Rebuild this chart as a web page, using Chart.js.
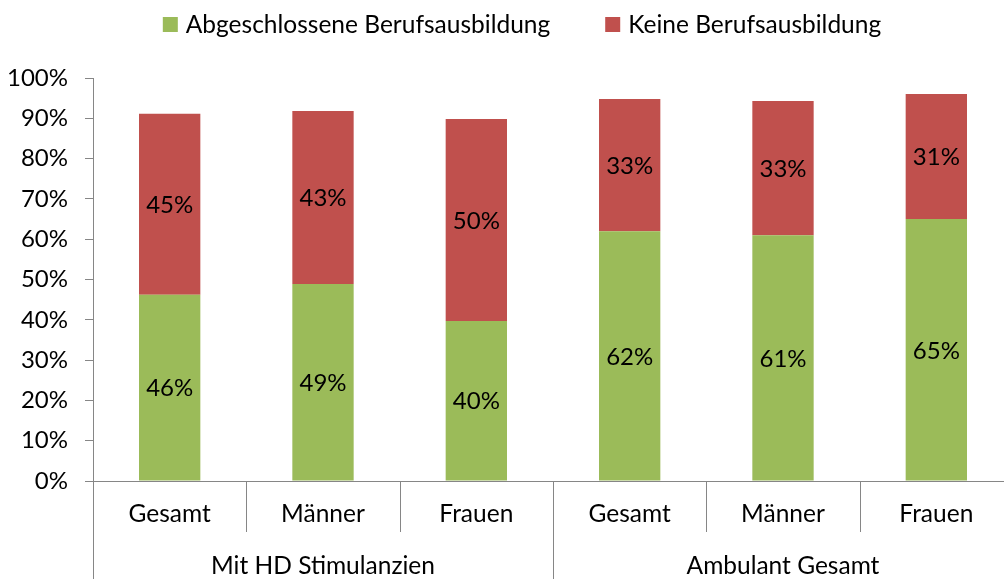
<!DOCTYPE html>
<html>
<head>
<meta charset="utf-8">
<script src="https://cdn.jsdelivr.net/npm/chart.js@4/dist/chart.umd.min.js"></script>
<style>
  html, body { margin: 0; padding: 0; background: #fff; overflow: hidden; }
  canvas { display: block; }
</style>
</head>
<body>
<canvas id="chart" width="1013" height="579" style="width:1013px;height:579px"></canvas>
<script>
// Daten
const categories = ['Gesamt', 'Männer', 'Frauen', 'Gesamt', 'Männer', 'Frauen'];
const groups = ['Mit HD Stimulanzien', 'Ambulant Gesamt'];
const groupSize = 3;
const abgeschlossen = [46.2, 48.9, 39.7, 62.0, 61.0, 65.0];
const keine = [44.9, 42.9, 50.1, 32.8, 33.3, 31.0];
const seriesNames = ['Abgeschlossene Berufsausbildung', 'Keine Berufsausbildung'];

const FONT = 'Lato, "Open Sans", sans-serif';
const AXIS_GRAY = '#868686';

// Eigene Legende oben
const legendPlugin = {
  id: 'topLegend',
  afterDraw(chart) {
    const ctx = chart.ctx;
    ctx.save();
    ctx.font = '24.5px ' + FONT;
    ctx.textBaseline = 'middle';
    ctx.textAlign = 'left';
    const box = 15, gap = 8, spacing = 55;
    const items = chart.data.datasets.map(ds => ({
      label: ds.label, color: ds.backgroundColor, w: ctx.measureText(ds.label).width
    }));
    const total = items.reduce((s, it) => s + box + gap + it.w, 0) + spacing * (items.length - 1);
    let x = 522 - total / 2;
    const y = 24.5;
    items.forEach(it => {
      ctx.fillStyle = it.color;
      ctx.fillRect(x, y - box / 2, box, box);
      ctx.fillStyle = '#000';
      ctx.fillText(it.label, x + box + gap, y + 1);
      x += box + gap + it.w + spacing;
    });
    ctx.restore();
  }
};

// Beschriftung in den Balken
const valueLabels = {
  id: 'valueLabels',
  afterDatasetsDraw(chart) {
    const ctx = chart.ctx;
    ctx.save();
    ctx.font = '24px ' + FONT;
    ctx.fillStyle = '#000';
    ctx.textAlign = 'center';
    ctx.textBaseline = 'middle';
    chart.data.datasets.forEach((ds, di) => {
      chart.getDatasetMeta(di).data.forEach((bar, i) => {
        const p = bar.getProps(['x', 'y', 'base'], true);
        ctx.fillText(Math.round(ds.data[i]) + '%', p.x, (p.y + p.base) / 2 + 1);
      });
    });
    ctx.restore();
  }
};

// Zweistufige Kategorienachse
const multiAxis = {
  id: 'multiAxis',
  afterDraw(chart) {
    const ctx = chart.ctx;
    const xs = chart.scales.x;
    const bottom = chart.chartArea.bottom;
    const half = (xs.getPixelForValue(1) - xs.getPixelForValue(0)) / 2;
    ctx.save();
    ctx.strokeStyle = AXIS_GRAY;
    ctx.lineWidth = 1;
    for (let i = 0; i <= categories.length; i++) {
      const x = Math.round(xs.getPixelForValue(i) - half) + 0.5;
      const full = i % groupSize === 0;
      ctx.beginPath();
      ctx.moveTo(x, bottom);
      ctx.lineTo(x, full ? chart.height : bottom + 51);
      ctx.stroke();
    }
    ctx.font = '24.5px ' + FONT;
    ctx.fillStyle = '#000';
    ctx.textAlign = 'center';
    ctx.textBaseline = 'alphabetic';
    categories.forEach((c, i) => {
      ctx.fillText(c, xs.getPixelForValue(i), bottom + 41);
    });
    groups.forEach((g, gi) => {
      const a = xs.getPixelForValue(gi * groupSize);
      const b = xs.getPixelForValue(gi * groupSize + groupSize - 1);
      ctx.fillText(g, (a + b) / 2, bottom + 93);
    });
    ctx.restore();
  }
};

new Chart(document.getElementById('chart'), {
  type: 'bar',
  data: {
    labels: categories,
    datasets: [
      {
        label: seriesNames[0],
        data: abgeschlossen,
        backgroundColor: '#9BBB59',
        barPercentage: 0.4,
        categoryPercentage: 1.0
      },
      {
        label: seriesNames[1],
        data: keine,
        backgroundColor: '#C0504D',
        barPercentage: 0.4,
        categoryPercentage: 1.0
      }
    ]
  },
  options: {
    responsive: false,
    animation: false,
    layout: { padding: { top: 78, left: 0, right: 0, bottom: 0 } },
    plugins: {
      legend: { display: false },
      tooltip: { enabled: false }
    },
    scales: {
      x: {
        stacked: true,
        ticks: { display: false },
        grid: { display: false },
        border: { display: true, color: AXIS_GRAY },
        afterFit: (scale) => { scale.height = 98; }
      },
      y: {
        stacked: true,
        min: 0,
        max: 100,
        ticks: {
          stepSize: 10,
          padding: 17,
          color: '#000',
          font: { family: FONT, size: 24 },
          callback: (val) => val + '%'
        },
        grid: { drawOnChartArea: false, drawTicks: true, tickLength: 8, color: AXIS_GRAY },
        border: { color: AXIS_GRAY },
        afterFit: (scale) => { scale.width = 93; }
      }
    }
  },
  plugins: [legendPlugin, valueLabels, multiAxis]
});
</script>
</body>
</html>
